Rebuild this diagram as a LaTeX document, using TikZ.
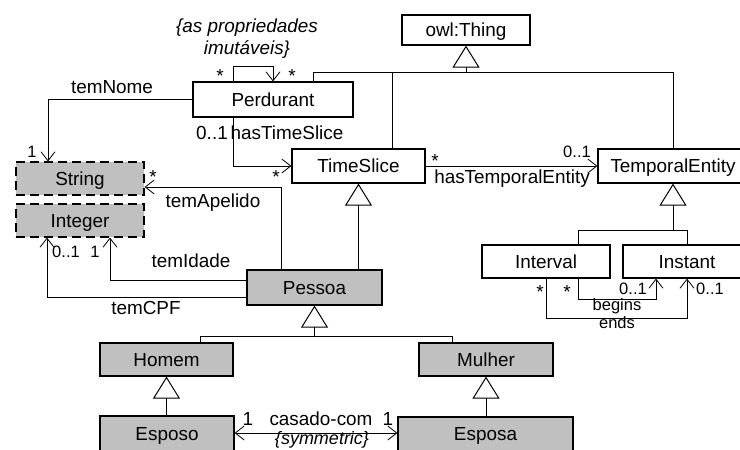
\documentclass[tikz,border=0pt]{standalone}
\usepackage{fontspec}
\setmainfont{Liberation Sans}
\usetikzlibrary{arrows.meta}
\definecolor{primgray}{HTML}{C0C0C0}
\begin{document}
\begin{tikzpicture}[x=1pt,y=-1pt,
  font=\fontsize{18.9}{22}\selectfont,
  cls/.style={draw, line width=1.2pt, fill=white, inner sep=0pt,
              text height=13.4pt, text depth=0pt},
  prim/.style={cls, fill=primgray},
  dtype/.style={prim, dash pattern=on 9pt off 5pt},
  link/.style={line width=0.8pt},
  barb/.tip={Straight Barb[length=9pt,width=14pt]},
  assoc/.style={link, -barb},
  gen/.style={line width=1pt, -{Triangle[open,length=22pt,width=27pt]}},
  lbl/.style={anchor=base, inner sep=0pt},
  mult/.style={lbl, font=\fontsize{16.5}{18}\selectfont},
  note/.style={lbl, font=\fontsize{18.9}{22}\selectfont\itshape},
]
\path[use as bounding box, clip] (0,0) rectangle (740,450);

% classes
\node[cls, minimum width=128pt, minimum height=30pt] (thing) at (466,30) {owl:Thing};
\node[cls, minimum width=160pt, minimum height=35pt] (perd) at (273,99.5) {Perdurant};
\node[cls, minimum width=133pt, minimum height=34pt] (ts) at (358.5,166) {TimeSlice};
\node[cls, minimum width=150pt, minimum height=34pt] (te) at (673,166) {TemporalEntity};
\node[cls, minimum width=128pt, minimum height=33pt] (interval) at (546,261.5) {Interval};
\node[cls, minimum width=128pt, minimum height=33pt] (instant) at (687,261.5) {Instant};
\node[dtype, minimum width=128pt, minimum height=33pt] (string) at (80,178.5) {String};
\node[dtype, minimum width=128pt, minimum height=33pt] (integer) at (80,220.5) {Integer};
\node[prim, minimum width=135pt, minimum height=35pt] (pessoa) at (314.5,287.5) {Pessoa};
\node[prim, minimum width=133pt, minimum height=33pt] (homem) at (166.5,359.5) {Homem};
\node[prim, minimum width=134pt, minimum height=33pt] (mulher) at (486,359.5) {Mulher};
\node[prim, minimum width=134pt, minimum height=35pt] (esposo) at (167,433.5) {Esposo};
\node[prim, minimum width=175pt, minimum height=34pt] (esposa) at (485.5,434) {Esposa};

% generalizations
\draw[gen] (thing.south |- 0,72) -- (thing.south);
\draw[link] (313,0 |- perd.north) |- (te.north |- 0,72) -- (te.north);
\draw[link] (392,0 |- ts.north) -- (392,72);
\draw[gen] (ts.south |- pessoa.north) -- (ts.south);
\draw[gen] (te.south |- 0,230) -- (te.south);
\draw[link] (578,0 |- interval.north) |- (instant.north |- 0,230) -- (instant.north);
\draw[gen] (pessoa.south |- 0,336) -- (pessoa.south);
\draw[link] (200,0 |- homem.north) |- (452,336) -- (452,0 |- mulher.north);
\draw[gen] (homem.south |- esposo.north) -- (homem.south);
\draw[gen] (mulher.south |- esposa.north) -- (mulher.south);

% associations
\draw[assoc] (233,0 |- perd.north) -- (233,66) -| (perd.north);
\draw[assoc] (perd.west) -| (48,0 |- string.north);
\draw[assoc] (233,0 |- perd.south) |- (ts.west);
\draw[assoc] (ts.east) -- (te.west);
\draw[assoc] (281,0 |- pessoa.north) |- (string.east |- 0,187);
\draw[assoc] (pessoa.west |- 0,280) -| (110,0 |- integer.south);
\draw[assoc] (pessoa.west |- 0,297) -| (47,0 |- integer.south);
\draw[assoc] (578,0 |- interval.south) |- (656,299) -- (656,0 |- instant.south);
\draw[assoc] (interval.south) |- (instant.south |- 0,318) -- (instant.south);
\draw[link, barb-barb] (esposo.east |- 0,433) -- (esposa.west |- 0,433);

% association labels and multiplicities
\node[note, align=center] (immut) at (247,54) {\{as propriedades\\imutáveis\}};
\node[lbl] (selfa) at (220,82) {*};
\node[lbl] (selfb) at (292,82) {*};
\node[lbl] (nome) at (112,93) {temNome};
\node[mult] (nomem) at (32,157) {1};
\node[lbl] (tsm) at (212,139) {0..1};
\node[lbl] (tsl) at (287,139) {hasTimeSlice};
\node[lbl] (tss) at (276,183) {*};
\node[lbl] (apes) at (153,183) {*};
\node[lbl] (ape) at (213,207) {temApelido};
\node[lbl] (tes) at (435,167) {*};
\node[mult] (tem) at (577,157) {0..1};
\node[lbl] (tel) at (512,183) {hasTemporalEntity};
\node[lbl] (idade) at (191,267) {temIdade};
\node[mult] (idadem) at (95,257) {1};
\node[mult] (cpfm) at (66,257) {0..1};
\node[lbl] (cpf) at (146,314) {temCPF};
\node[lbl] (endss) at (540,298) {*};
\node[lbl] (beginss) at (567,298) {*};
\node[mult] (beginsm) at (633,294) {0..1};
\node[mult] (endsm) at (710,294) {0..1};
\node[mult] (begins) at (617,310) {begins};
\node[mult] (ends) at (617,328) {ends};
\node[lbl] (casa) at (248,425) {1};
\node[lbl] (casl) at (321,425) {casado-com};
\node[lbl] (casb) at (388,425) {1};
\node[note, font=\fontsize{18}{22}\selectfont\itshape] (sym) at (322,444) {\{symmetric\}};
\end{tikzpicture}
\end{document}
